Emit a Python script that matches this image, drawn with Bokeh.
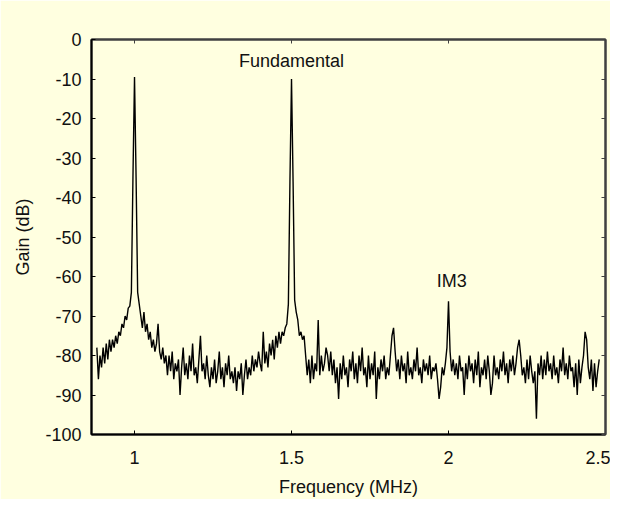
import numpy as np
from bokeh.plotting import figure
from bokeh.models import LinearAxis, FixedTicker, CustomJSTickFormatter, Range1d, Label
from bokeh.embed import file_html
from bokeh.resources import INLINE

# ---- data (frequency in MHz, gain in dB), sampled every 0.005 MHz ----
freq_step = 0.005

seg1_start = 0.880   # 0.880 .. 1.100 (first fundamental at 1.0)
seg1 = [-78, -86, -80, -83, -78, -82, -77, -81, -76, -79, -76, -78, -75, -77, -74,
        -75, -72, -73, -70, -71, -68,
        -67.5, -64, -35, -9.5, -35, -64, -67,
        -70, -73, -69, -74, -72, -76, -74, -78, -76, -79, -77, -72, -79, -81, -78, -82, -80]

seg2_start = 1.105   # 1.105 .. 1.400
seg2 = [-85, -80, -84, -79, -86, -82, -84, -81, -90, -83, -78, -85, -82, -86, -80,
        -84, -77, -85, -83, -87, -81, -75, -84, -82, -86, -80, -85, -88, -83, -86,
        -81, -87, -84, -79, -86, -83, -88, -82, -85, -80, -86, -84, -87, -83, -89,
        -84, -86, -82, -90, -85, -81, -86, -83, -85, -80, -84, -81, -83, -79, -82]

seg3_start = 1.405   # 1.405 .. 1.600 (second fundamental at 1.5)
seg3 = [-84, -74, -82, -79, -83, -77, -80, -76, -81, -75, -78, -74, -77, -74, -75, -73,
        -72, -67, -36, -10, -36, -66, -69,
        -71, -75, -74, -76, -75, -80, -85, -81, -87, -80, -86, -82, -84, -71, -85, -80, -84]

seg4_start = 1.605   # 1.605 .. 1.800
seg4 = [-82, -78, -80, -84, -79, -85, -81, -87, -83, -91, -82, -86, -80, -85, -83,
        -88, -81, -84, -79, -86, -82, -87, -80, -84, -78, -85, -83, -88, -80, -86,
        -82, -85, -79, -91, -83, -86, -81, -84, -80, -86]

seg5_start = 1.805   # 1.805 .. 2.010 (IM3 at 2.0)
seg5 = [-83, -85, -80, -75, -73, -79, -84, -81, -86, -80, -84, -82, -87, -79, -85,
        -83, -86, -81, -84, -78, -85, -83, -87, -81, -84, -82, -85, -80, -86, -83,
        -84, -82, -86, -91, -88, -83, -85, -82, -78, -66.3, -79, -84]

seg6_start = 2.015   # 2.015 .. 2.300
seg6 = [-81, -85, -82, -86, -80, -84, -83, -90, -82, -86, -80, -84, -82, -87, -81,
        -85, -79, -88, -83, -85, -81, -86, -80, -84, -90, -87, -80, -85, -83, -86,
        -81, -84, -79, -85, -82, -87, -81, -84, -80, -85, -82, -78, -76, -80, -85,
        -83, -87, -81, -86, -80, -84, -87, -84, -96, -82, -85, -80, -86]

seg7_start = 2.305   # 2.305 .. 2.480
seg7 = [-81, -85, -79, -84, -82, -86, -80, -85, -83, -87, -81, -84, -78, -85, -82,
        -86, -80, -84, -83, -88, -82, -90, -81, -87, -83, -80, -74, -76, -83, -86,
        -81, -89, -82, -88, -84, -81]

segments = [(seg1_start, seg1), (seg2_start, seg2), (seg3_start, seg3), (seg4_start, seg4),
            (seg5_start, seg5), (seg6_start, seg6), (seg7_start, seg7)]

x_ticks = [1, 1.5, 2, 2.5]
y_ticks = [0, -10, -20, -30, -40, -50, -60, -70, -80, -90, -100]

annotations = [("Fundamental", 1.5, -5.5), ("IM3", 2.01, -61.2)]

freq = np.concatenate([s + freq_step * np.arange(len(v)) for s, v in segments])
gain = np.concatenate([np.array(v, dtype=float) for s, v in segments])

# ---- styling ----
BG = "#FFFFE0"
FONT = "Liberation Sans"
TXT = "#111111"
FS = "18px"

p = figure(width=610, height=499,
           x_range=Range1d(0.863, 2.5), y_range=Range1d(-100, 0),
           output_backend="svg", toolbar_location=None,
           background_fill_color=BG, border_fill_color=BG,
           min_border_left=91, min_border_right=5, min_border_top=39, min_border_bottom=50)

p.line(freq, gain, line_color="black", line_width=1.4)

p.grid.visible = False
p.outline_line_color = "#404040"
p.outline_line_width = 2

fmt = CustomJSTickFormatter(code="return String(Math.round(tick*10)/10);")
blank = CustomJSTickFormatter(code="return '';")

xa = p.xaxis[0]
xa.ticker = FixedTicker(ticks=x_ticks)
xa.formatter = fmt
xa.axis_label = "Frequency (MHz)"
xa.major_label_standoff = 16
xa.axis_label_standoff = 10

ya = p.yaxis[0]
ya.ticker = FixedTicker(ticks=y_ticks)
ya.formatter = fmt
ya.axis_label = "Gain (dB)"
ya.major_label_standoff = 10
ya.axis_label_standoff = 9

for ax in (xa, ya):
    ax.axis_line_color = "black"
    ax.axis_line_width = 2
    ax.major_tick_in = 4
    ax.major_tick_out = 0
    ax.major_tick_line_color = "black"
    ax.major_tick_line_width = 1
    ax.minor_tick_line_color = None
    ax.major_label_text_font = FONT
    ax.major_label_text_font_size = FS
    ax.major_label_text_color = TXT
    ax.axis_label_text_font = FONT
    ax.axis_label_text_font_size = FS
    ax.axis_label_text_font_style = "normal"
    ax.axis_label_text_color = TXT

top = LinearAxis(ticker=FixedTicker(ticks=x_ticks), formatter=blank)
right = LinearAxis(ticker=FixedTicker(ticks=y_ticks), formatter=blank)
for ax in (top, right):
    ax.axis_line_color = "#404040"
    ax.axis_line_width = 2
    ax.major_tick_in = 4
    ax.major_tick_out = 0
    ax.major_tick_line_color = "#404040"
    ax.minor_tick_line_color = None
    ax.major_label_standoff = 0
p.add_layout(top, "above")
p.add_layout(right, "right")

for txt, ax_x, ax_y in annotations:
    p.add_layout(Label(x=ax_x, y=ax_y, text=txt, text_align="center", text_baseline="middle",
                       text_font=FONT, text_font_size=FS, text_color=TXT))

open("out.html", "w").write(file_html(p, INLINE))
